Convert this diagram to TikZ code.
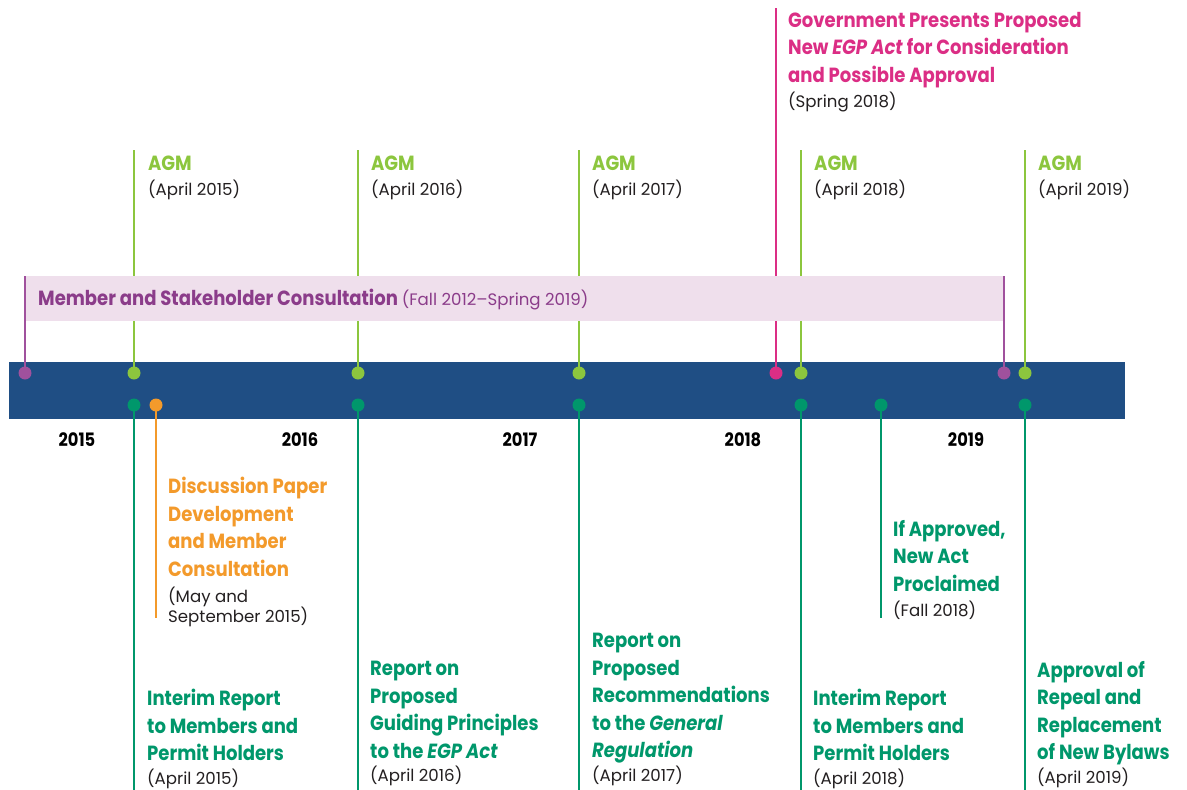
\documentclass[tikz,border=0pt]{standalone}
\usepackage{fontspec}
\setmainfont{Poppins}
\newfontfamily\hdf{Poppins}[FakeStretch=0.88]
\newfontfamily\dtf{Poppins}
\definecolor{navy}{HTML}{1F4E84}
\definecolor{lime}{HTML}{8CC63E}
\definecolor{teal}{HTML}{00976B}
\definecolor{orng}{HTML}{F39A2B}
\definecolor{pinkc}{HTML}{DB2E85}
\definecolor{purp}{HTML}{8B3C8A}
\definecolor{purpdot}{HTML}{A0519D}
\definecolor{bandc}{HTML}{EFDFEC}
\definecolor{datec}{HTML}{231F20}
\newcommand\dtx[1]{{\dtf\mdseries\fontsize{16.6}{20}\selectfont\color{datec}#1}}
\tikzset{
  hd/.style={font=\hdf\bfseries\fontsize{20.5}{27.5}\selectfont, align=left, anchor=north west, inner sep=0pt, text=#1},
  yr/.style={font=\hdf\bfseries\fontsize{18.5}{20}\selectfont, anchor=base, inner sep=0pt, text=black},
  ln/.style={draw=#1, line width=2.7pt},
  dotc/.style={circle, fill=#1, minimum size=13pt, inner sep=0pt}
}
\begin{document}
\begin{tikzpicture}[x=1pt,y=-1pt]
\useasboundingbox (0,0) rectangle (1187,790);
% bar
\fill[navy] (9,362) rectangle (1125,419);
% dots (positions)
\path
  (25,373) coordinate (pL)
  (134,373) coordinate (a15) (358,373) coordinate (a16) (579,373) coordinate (a17)
  (801,373) coordinate (a18) (1025,373) coordinate (a19)
  (776,373) coordinate (gv) (1004,373) coordinate (pR)
  (134,405) coordinate (r15) (156,405) coordinate (dp) (358,405) coordinate (r16)
  (579,405) coordinate (r17) (801,405) coordinate (r18) (881,405) coordinate (na)
  (1025,405) coordinate (r19);
% tops
\path
  (134,150) coordinate (a15t) (358,150) coordinate (a16t) (579,150) coordinate (a17t)
  (801,150) coordinate (a18t) (1025,150) coordinate (a19t)
  (776,8) coordinate (gvt) (25,276) coordinate (pLt) (1004,276) coordinate (pRt)
  (134,790) coordinate (r15b) (156,618) coordinate (dpb) (358,790) coordinate (r16b)
  (579,790) coordinate (r17b) (801,790) coordinate (r18b) (881,618) coordinate (nab)
  (1025,790) coordinate (r19b);
\foreach \a in {a15,a16,a17,a18,a19} \draw[ln=lime] (\a t) -- (\a);
\draw[ln=pinkc] (gvt) -- (gv);
% consultation band
\fill[bandc] (25,276) rectangle (1003,321);
\draw[ln=purpdot] (pLt) -- (pL);
\draw[ln=purpdot] (pRt) -- (pR);
\foreach \a in {r15,r16,r17,r18,r19,na} \draw[ln=teal] (\a) -- (\a b);
\draw[ln=orng] (dp) -- (dpb);
% dots
\foreach \a in {a15,a16,a17,a18,a19} \node[dotc=lime] (\a d) at (\a) {};
\foreach \a in {r15,r16,r17,r18,r19,na} \node[dotc=teal] (\a d) at (\a) {};
\node[dotc=pinkc] (gvd) at (gv) {};
\node[dotc=purpdot] (pLd) at (pL) {};
\node[dotc=purpdot] (pRd) at (pR) {};
\node[dotc=orng] (dpd) at (dp) {};
% years
\node[yr] (y15) at (77,446) {2015};
\node[yr] (y16) at (300,446) {2016};
\node[yr] (y17) at (520,446) {2017};
\node[yr] (y18) at (743,446) {2018};
\node[yr] (y19) at (966,446) {2019};
% consultation text
\node[font=\hdf\bfseries\fontsize{20.5}{27.5}\selectfont, text=purp, anchor=base west, inner sep=0pt] (cons) at (38,305)
  {Member and Stakeholder Consultation {\dtf\mdseries\fontsize{16.6}{20}\selectfont(Fall 2012–Spring 2019)}};
% AGM labels
\node[hd=lime] (t15) at (148,156) {AGM\\[-2.5pt]\dtx{(April 2015)}};
\node[hd=lime] (t16) at (371,156) {AGM\\[-2.5pt]\dtx{(April 2016)}};
\node[hd=lime] (t17) at (592,156) {AGM\\[-2.5pt]\dtx{(April 2017)}};
\node[hd=lime] (t18) at (814,156) {AGM\\[-2.5pt]\dtx{(April 2018)}};
\node[hd=lime] (t19) at (1038,156) {AGM\\[-2.5pt]\dtx{(April 2019)}};
% government
\node[hd=pinkc] (tg) at (788,12) {Government Presents Proposed\\New \textit{EGP Act} for Consideration\\and Possible Approval\\[-2.5pt]\dtx{(Spring 2018)}};
% discussion paper
\node[hd=orng] (td) at (168,477) {Discussion Paper\\Development\\and Member\\Consultation\\[-1.5pt]\dtx{(May and}\\[-7.5pt]\dtx{September 2015)}};
% lower labels
\node[hd=teal] (ti15) at (147,689) {Interim Report\\to Members and\\Permit Holders\\[-4pt]\dtx{(April 2015)}};
\node[hd=teal] (ti16) at (370,661) {Report on\\Proposed\\Guiding Principles\\to the \textit{EGP Act}\\[-4pt]\dtx{(April 2016)}};
\node[hd=teal] (ti17) at (592,633) {Report on\\Proposed\\Recommendations\\to the \textit{General}\\\textit{Regulation}\\[-4pt]\dtx{(April 2017)}};
\node[hd=teal] (ti18) at (813,689) {Interim Report\\to Members and\\Permit Holders\\[-4pt]\dtx{(April 2018)}};
\node[hd=teal] (tna) at (893,520) {If Approved,\\New Act\\Proclaimed\\[-2.5pt]\dtx{(Fall 2018)}};
\node[hd=teal] (ti19) at (1037,661) {Approval of\\Repeal and\\Replacement\\of New Bylaws\\[-4pt]\dtx{(April 2019)}};
\end{tikzpicture}
\end{document}
